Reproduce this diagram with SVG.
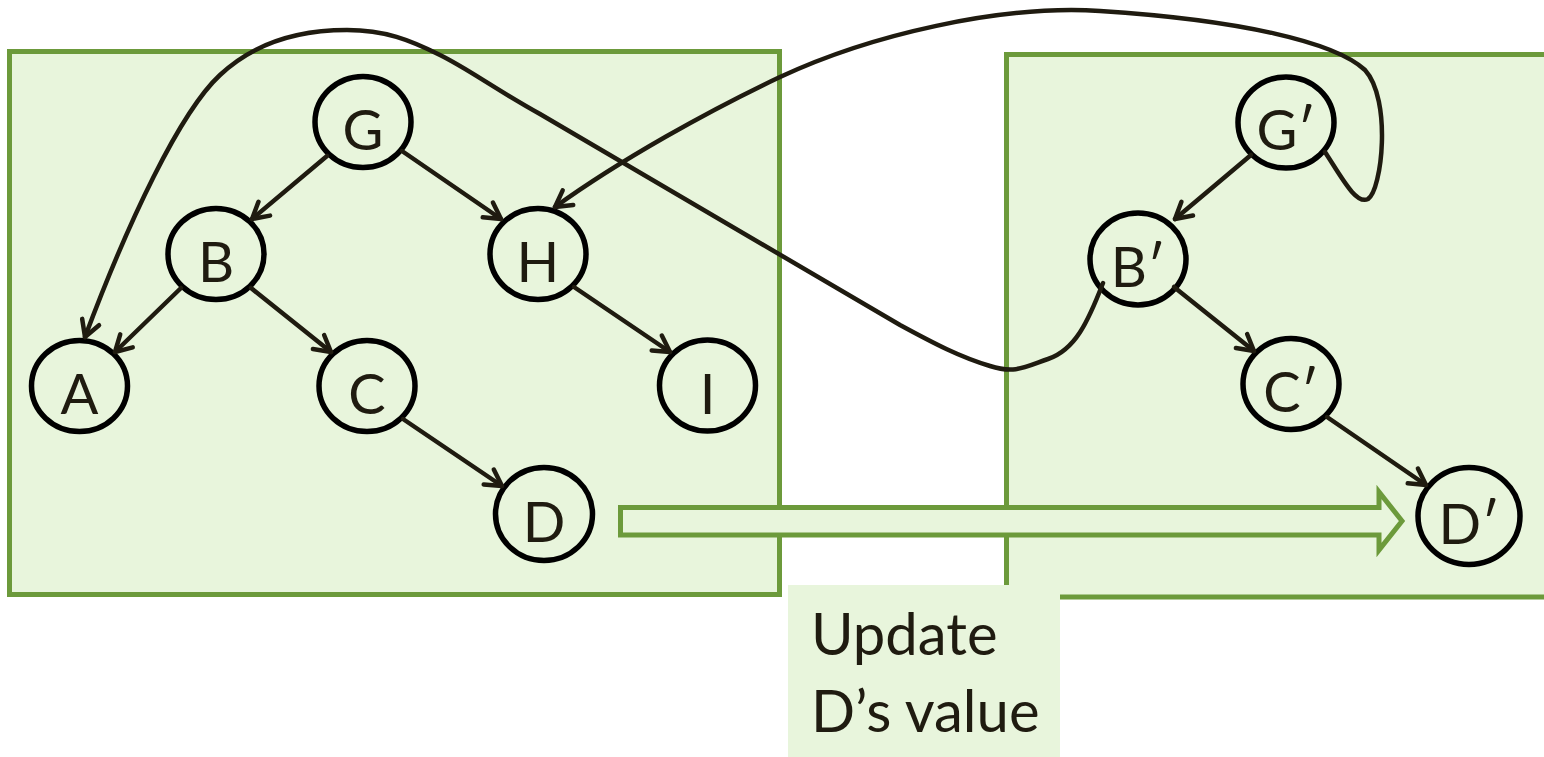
<svg xmlns="http://www.w3.org/2000/svg" width="1544" height="757" viewBox="0 0 1544 757">
  <style>
    .frame { fill: #e8f5dc; stroke: #6c9a3b; stroke-width: 5; stroke-linejoin: miter; }
    .node ellipse { fill: none; stroke: #000; stroke-width: 5.5; }
    .node text { font-family: Lato, "Noto Sans", "DejaVu Sans", sans-serif; font-size: 56px; fill: #1f1b10; text-anchor: middle; }
    .edge { fill: none; stroke: #1f1b10; stroke-width: 4.5; stroke-linecap: round; marker-end: url(#arrow); }
    .note { font-family: Lato, "Noto Sans", "DejaVu Sans", sans-serif; font-size: 58px; fill: #1f1b10; }
  </style>
  <defs>
    <marker id="arrow" viewBox="-20 -13 24 26" refX="0" refY="0" markerWidth="24" markerHeight="26" markerUnits="userSpaceOnUse" orient="auto">
      <path d="M-16,-9 L0,0 L-16,9" fill="none" stroke="#1f1b10" stroke-width="4.5" stroke-linecap="round" stroke-linejoin="round"/>
    </marker>
  </defs>

  <rect width="1544" height="757" fill="#fff"/>

  <!-- the two tree versions -->
  <g id="old-tree-frame">
    <rect class="frame" x="9.5" y="51.5" width="770" height="543"/>
  </g>
  <g id="new-tree-frame">
    <rect class="frame" x="1006.5" y="54.5" width="600" height="542.5"/>
  </g>

  <!-- block arrow: D is updated into D' -->
  <g id="update-arrow">
    <path class="frame" stroke-linejoin="round" d="M620.5,507.5 L1379,507.5 L1379,492 L1402,521 L1379,550 L1379,535 L620.5,535 Z"/>
  </g>

  <g id="update-label">
    <rect x="788" y="585" width="272" height="172" fill="#e8f5dc"/>
    <text class="note" x="811" y="655">Update</text>
    <text class="note" x="811" y="732">D’s value</text>
  </g>

  <!-- original tree -->
  <g id="node-G" class="node"><ellipse cx="363" cy="122" rx="48" ry="45.5"/><text x="363" y="150">G</text></g>
  <g id="node-B" class="node"><ellipse cx="216" cy="254" rx="48" ry="45.5"/><text x="216" y="282">B</text></g>
  <g id="node-H" class="node"><ellipse cx="538" cy="254" rx="48" ry="45.5"/><text x="538" y="282">H</text></g>
  <g id="node-A" class="node"><ellipse cx="79.5" cy="386" rx="48" ry="45.5"/><text x="79.5" y="414">A</text></g>
  <g id="node-C" class="node"><ellipse cx="367" cy="386" rx="48" ry="45.5"/><text x="367" y="414">C</text></g>
  <g id="node-I" class="node"><ellipse cx="707.5" cy="385.5" rx="48" ry="45.5"/><text x="707.5" y="414">I</text></g>
  <g id="node-D" class="node"><ellipse cx="544" cy="514" rx="48.5" ry="46.5"/><text x="544" y="542">D</text></g>

  <!-- updated path copies -->
  <g id="node-G2" class="node"><ellipse cx="1286" cy="122.5" rx="48" ry="45.5"/><text x="1286" y="150">G′</text></g>
  <g id="node-B2" class="node"><ellipse cx="1138" cy="259" rx="48" ry="46"/><text x="1138" y="287">B′</text></g>
  <g id="node-C2" class="node"><ellipse cx="1291" cy="384" rx="48" ry="45.5"/><text x="1291" y="412">C′</text></g>
  <g id="node-D2" class="node"><ellipse cx="1469" cy="516" rx="51" ry="48.5"/><text x="1469" y="544">D′</text></g>

  <g id="connectors">
    <path class="edge" d="M327,156 L252,219"/>
    <path class="edge" d="M402,151 L501,219"/>
    <path class="edge" d="M181,288 L115,352"/>
    <path class="edge" d="M251,288 L331,352"/>
    <path class="edge" d="M574,287 L670,352"/>
    <path class="edge" d="M403,419 L502,486"/>
    <path class="edge" d="M1251,155 L1175,219"/>
    <path class="edge" d="M1174,287 L1254,351"/>
    <path class="edge" d="M1327,417 L1426,485"/>
    <!-- B' reuses A -->
    <path class="edge" d="M1103,283 C1088,322 1075,350 1048,359 C1025,367 1015,374 990,366 C960,357 935,344 900,325 C760,242 620,160 540,114 C490,86 470,70 440,55 C410,40 385,30 347,30 C300,30 255,42 220,75 C180,112 128,222 85,337"/>
    <!-- G' reuses H -->
    <path class="edge" d="M1325,152 C1342,178 1356,205 1368,199 C1382,190 1392,100 1365,70 C1335,42 1240,20 1100,11 C1000,4.6 870,35 780,77 C710,110 620,160 555,207"/>
  </g>
</svg>
